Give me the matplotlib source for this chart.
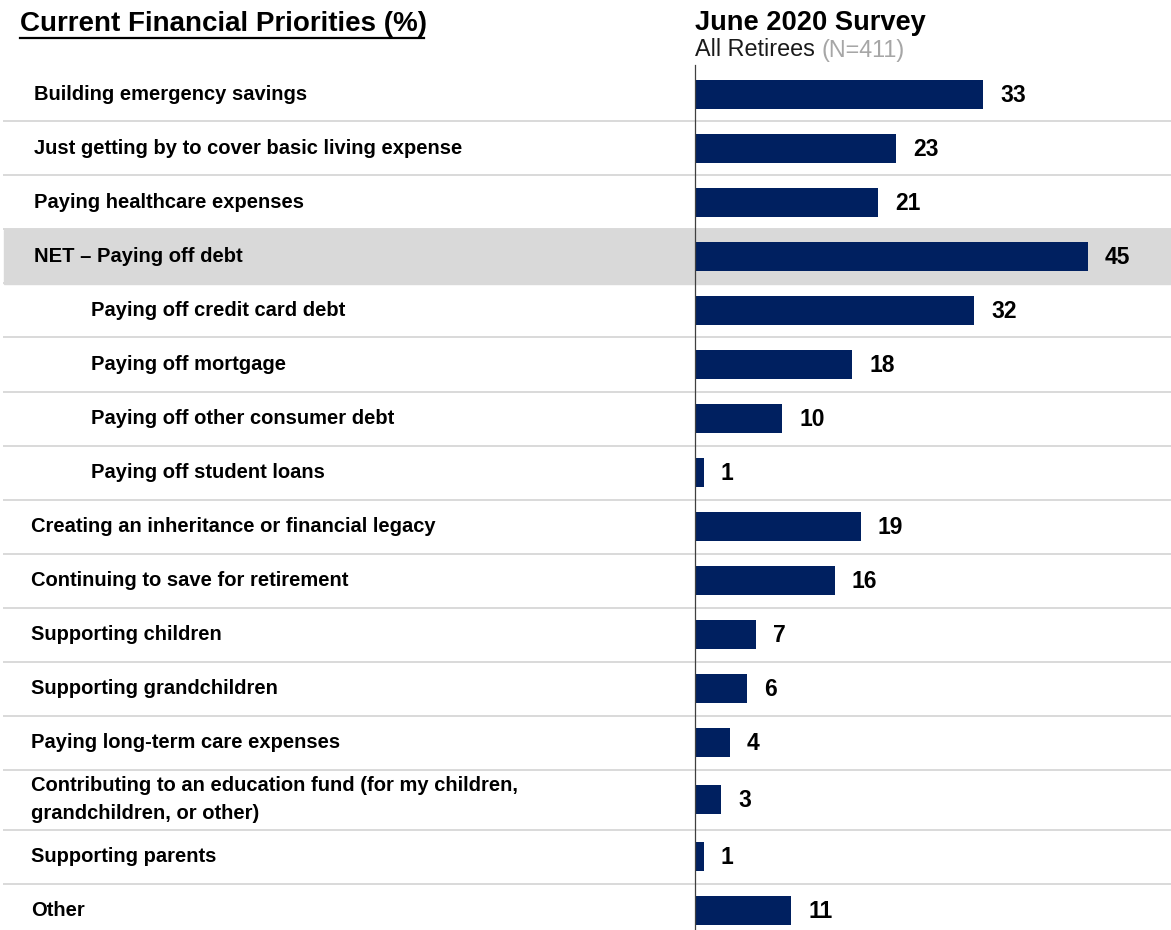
import matplotlib.pyplot as plt
from matplotlib import transforms

plt.rcParams['font.family'] = ['Liberation Sans', 'DejaVu Sans']

categories = [
    "Building emergency savings",
    "Just getting by to cover basic living expense",
    "Paying healthcare expenses",
    "NET \u2013 Paying off debt",
    "Paying off credit card debt",
    "Paying off mortgage",
    "Paying off other consumer debt",
    "Paying off student loans",
    "Creating an inheritance or financial legacy",
    "Continuing to save for retirement",
    "Supporting children",
    "Supporting grandchildren",
    "Paying long-term care expenses",
    "Contributing to an education fund (for my children,\ngrandchildren, or other)",
    "Supporting parents",
    "Other",
]
values = [33, 23, 21, 45, 32, 18, 10, 1, 19, 16, 7, 6, 4, 3, 1, 11]
indented = [False, False, False, False, True, True, True, True,
            False, False, False, False, False, False, False, False]
net_row = 3

W, H = 1171, 930
NAVY = "#002060"
GRID = "#D9D9D9"

fig = plt.figure(figsize=(W / 100, H / 100), dpi=100)
ax = fig.add_axes([0, 0, 1, 1])

# pixel layout: zero line at x=695, 45% reaches x=1088
zero_px, scale = 695, (1088 - 695) / 45
ax.set_xlim(-zero_px / scale, (W - zero_px) / scale)
ax.set_ylim(H, 0)
ax.axis("off")

# row boundaries (pixel rows), the two-line label gets a taller row
heights = [54] * len(categories)
heights[13] = 60
tops = [67.5]
for h in heights[:-1]:
    tops.append(tops[-1] + h)
centers = [t + h / 2 for t, h in zip(tops, heights)]

trans = transforms.blended_transform_factory(ax.transAxes, ax.transData)

# shaded NET row and separators
ax.axhspan(tops[net_row], tops[net_row] + heights[net_row], xmin=4 / W, xmax=1,
           color=GRID, zorder=0)
for t, h in zip(tops[:-1], heights[:-1]):
    ax.plot([4 / W, 1], [t + h, t + h], color=GRID, lw=1.4, transform=trans, zorder=1)

ax.barh(centers, values, height=29, color=NAVY, zorder=3)
ax.plot([0, 0], [65, H], color="#404040", lw=0.9, zorder=4)

for c, v, cat, ind in zip(centers, values, categories, indented):
    ax.text(v + 17 / scale, c + 1, str(v), ha="left", va="center",
            fontsize=16.5, fontweight="bold", color="black", zorder=5)
    x = 91 if ind else (34 if cat in categories[:4] else 31)
    ax.text(x / W, c, cat, transform=trans, ha="left", va="center",
            fontsize=14.5, fontweight="bold", color="black", linespacing=1.65)

fig.text(20 / W, 1 - 24 / H, "Current Financial Priorities (%)", ha="left", va="center",
         fontsize=20, fontweight="bold")
ax.plot([20 / W, 424 / W], [38.5, 38.5], color="black", lw=1.6, transform=trans)

fig.text(695 / W, 1 - 23 / H, "June 2020 Survey", ha="left", va="center",
         fontsize=19.6, fontweight="bold")
t1 = fig.text(695 / W, 1 - 50 / H, "All Retirees ", ha="left", va="center",
              fontsize=16.8, color="#1a1a1a")
fig.canvas.draw()
bb = t1.get_window_extent()
fig.text(bb.x1 / W, 1 - 50 / H, "(N=411)", ha="left", va="center",
         fontsize=16.8, color="#A6A6A6")

fig.savefig("out.png", dpi=100)
